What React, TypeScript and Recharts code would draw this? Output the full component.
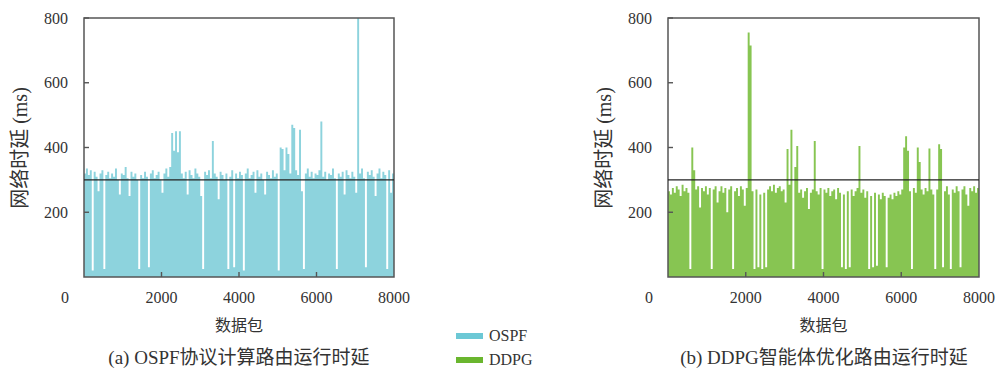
import React from "react";
import { AreaChart, Area, XAxis, YAxis, ReferenceLine, ReferenceArea } from "recharts";

// one sample every 50 packets
const STEP = 50;

const OSPF_DELAY = [
  320, 335, 315, 330, 20, 325, 310, 265, 320, 330, 25, 315, 325, 305, 320, 310, 335, 300, 255, 320,
  315, 340, 305, 250, 325, 310, 320, 300, 25, 315, 305, 325, 310, 30, 320, 330, 305, 315, 325, 300,
  260, 320, 335, 310, 340, 445, 390, 450, 385, 450, 320, 305, 325, 255, 330, 315, 305, 335, 320, 310,
  250, 25, 325, 315, 330, 305, 420, 320, 310, 240, 325, 315, 300, 320, 25, 310, 330, 30, 320, 305,
  325, 315, 20, 320, 335, 305, 315, 325, 260, 330, 310, 320, 300, 255, 325, 315, 305, 330, 310, 320,
  20, 400, 395, 330, 400, 380, 320, 470, 460, 330, 315, 455, 265, 25, 320, 335, 310, 325, 305, 320,
  315, 330, 480, 310, 325, 300, 320, 315, 335, 305, 25, 320, 310, 325, 255, 330, 315, 305, 325, 310,
  260, 800, 320, 335, 305, 30, 325, 315, 330, 310, 250, 320, 335, 305, 325, 315, 25, 330, 260, 320,
  315,
];

const DDPG_DELAY = [
  265, 255, 275, 260, 280, 270, 250, 285, 265, 275, 260, 25, 400, 330, 270, 280, 215, 275, 265, 280,
  255, 275, 25, 270, 280, 230, 265, 280, 260, 275, 200, 270, 280, 25, 265, 275, 250, 280, 270, 220,
  275, 755, 715, 265, 25, 270, 30, 255, 25, 260, 30, 270, 280, 265, 285, 260, 275, 280, 265, 270,
  230, 395, 285, 455, 25, 340, 405, 260, 270, 245, 265, 275, 210, 260, 270, 420, 265, 255, 275, 25,
  270, 260, 275, 250, 265, 270, 240, 275, 260, 30, 255, 25, 265, 30, 270, 250, 265, 275, 405, 260,
  270, 245, 265, 25, 250, 30, 260, 35, 255, 240, 260, 250, 30, 245, 255, 240, 260, 250, 265, 255,
  270, 400, 435, 390, 265, 25, 275, 260, 400, 355, 270, 255, 275, 265, 397, 270, 255, 25, 270, 410,
  395, 30, 265, 280, 255, 25, 270, 260, 280, 265, 30, 270, 280, 255, 220, 275, 265, 280, 260, 275,
  270,
];

const X_TICKS = [0, 2000, 4000, 6000, 8000];
const Y_TICKS = [200, 400, 600, 800];
const THRESHOLD = 300;

const OSPF_COLOR = "#8dd3dd";
const DDPG_COLOR = "#87c552";
const OSPF_LEGEND = "#6cc8d5";
const DDPG_LEGEND = "#6ab62e";
const FRAME = "#555";
const TEXT = "#333";
const FONT = "'Liberation Serif', 'Times New Roman', 'DejaVu Serif', 'Noto Sans CJK SC', serif";

const toRows = (vals: number[]) => vals.map((v, i) => ({ packet: i * STEP, delay: v }));

const XTick = (props: any) => {
  const { x, y, payload } = props;
  const v = payload.value;
  return (
    <g>
      {v > 0 && v < 8000 && <line x1={x} x2={x} y1={y - 15} y2={y - 20} stroke={FRAME} strokeWidth={1.4} />}
      <text x={v === 0 ? x - 19 : x} y={y} dy="0.71em" textAnchor="middle" fontSize={16} fill={TEXT} style={{ fontFamily: FONT }}>
        {v}
      </text>
    </g>
  );
};

const YTick = (props: any) => {
  const { x, y, payload } = props;
  return (
    <g>
      <line x1={x + 16} x2={x + 21} y1={y} y2={y} stroke={FRAME} strokeWidth={1.4} />
      <text x={x} y={y} dy="0.35em" textAnchor="end" fontSize={16} fill={TEXT} style={{ fontFamily: FONT }}>
        {payload.value}
      </text>
    </g>
  );
};

function Panel({ left, values, color, rightMargin, caption }: any) {
  const data = toRows(values);
  return (
    <div style={{ position: "absolute", left, top: 0, width: 420, height: 370 }}>
      <AreaChart width={420} height={310} data={data} margin={{ top: 18, right: rightMargin, bottom: 13, left: 0 }}>
        <XAxis
          dataKey="packet"
          type="number"
          domain={[0, 8000]}
          ticks={X_TICKS}
          height={20}
          axisLine={false}
          tickLine={false}
          tickSize={0}
          tickMargin={15}
          tick={<XTick />}
        />
        <YAxis
          type="number"
          domain={[0, 800]}
          ticks={Y_TICKS}
          width={84}
          axisLine={false}
          tickLine={false}
          tickSize={0}
          tickMargin={16}
          tick={<YTick />}
        />
        <Area
          type="stepAfter"
          dataKey="delay"
          stroke="none"
          fill={color}
          fillOpacity={1}
          isAnimationActive={false}
        />
        <ReferenceLine y={THRESHOLD} stroke="#222" strokeWidth={1.3} />
        <ReferenceArea x1={0} x2={8000} y1={0} y2={800} fill="none" stroke={FRAME} strokeWidth={1.5} />
      </AreaChart>
      <div
        style={{
          position: "absolute",
          left: 20 - 80,
          top: 148 - 12,
          width: 160,
          height: 24,
          lineHeight: "24px",
          textAlign: "center",
          transform: "rotate(-90deg)",
          fontSize: 20,
          color: TEXT,
          whiteSpace: "nowrap",
        }}
      >
        网络时延&nbsp;(ms)
      </div>
      <div
        style={{
          position: "absolute",
          left: 84,
          width: 420 - 84 - rightMargin,
          top: 316,
          height: 20,
          lineHeight: "20px",
          textAlign: "center",
          fontSize: 16,
          color: TEXT,
        }}
      >
        数据包
      </div>
      <div
        style={{
          position: "absolute",
          left: caption.cx - 200,
          width: 400,
          top: 347,
          height: 22,
          lineHeight: "22px",
          textAlign: "center",
          fontSize: 19,
          color: TEXT,
          whiteSpace: "nowrap",
        }}
      >
        {caption.text}
      </div>
    </div>
  );
}

export default function App() {
  const legend = [
    { name: "OSPF", color: OSPF_LEGEND, y: 336 },
    { name: "DDPG", color: DDPG_LEGEND, y: 360 },
  ];
  return (
    <div style={{ position: "absolute", left: 0, top: 0, width: 997, height: 370, background: "#fff", fontFamily: FONT }}>
      <Panel left={0} values={OSPF_DELAY} color={OSPF_COLOR} rightMargin={26} caption={{ cx: 239, text: "(a) OSPF协议计算路由运行时延" }} />
      <Panel left={584} values={DDPG_DELAY} color={DDPG_COLOR} rightMargin={25} caption={{ cx: 240, text: "(b) DDPG智能体优化路由运行时延" }} />
      {legend.map((l) => (
        <div key={l.name} style={{ position: "absolute", left: 456, top: l.y - 10, height: 20, display: "flex", alignItems: "center" }}>
          <div style={{ width: 27, height: 6, background: l.color, marginRight: 6 }} />
          <span style={{ fontSize: 16, color: TEXT, lineHeight: "20px" }}>{l.name}</span>
        </div>
      ))}
    </div>
  );
}
